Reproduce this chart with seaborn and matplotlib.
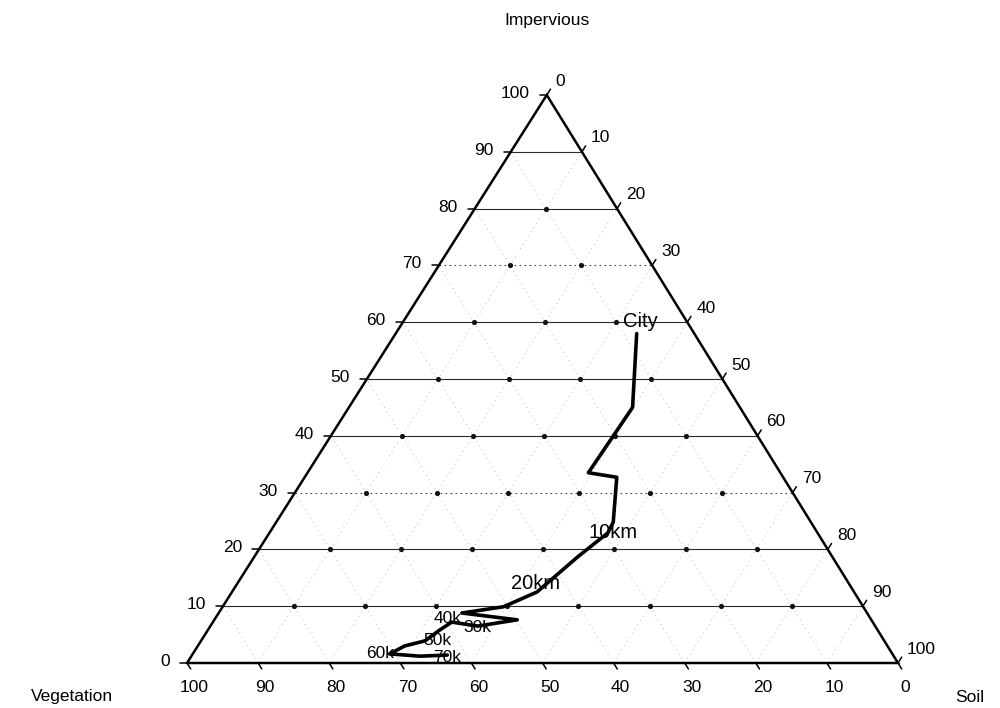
import numpy as np
import pandas as pd
import matplotlib
matplotlib.use("Agg")
import matplotlib.pyplot as plt
import seaborn as sns

sns.set_theme(style="white")
plt.rcParams['font.family'] = ['Liberation Sans', 'DejaVu Sans']
plt.rcParams['text.color'] = 'black'

# Land-cover composition (%) along the transect from the city centre outwards
impervious = [58.0, 45.0, 33.5, 32.7, 24.8, 22.9, 18.7, 12.5, 9.9, 8.8,
              7.6, 6.5, 7.2, 5.8, 3.9, 3.0, 1.6, 1.2, 1.4]
soil = [33.9, 39.9, 39.5, 43.9, 47.4, 47.6, 45.5, 42.9, 39.5, 34.2,
        42.6, 37.6, 33.6, 32.6, 31.5, 29.1, 27.7, 32.2, 35.9]
vegetation = [8.1, 15.1, 27.0, 23.4, 27.8, 29.5, 35.8, 44.6, 50.6, 57.0,
              49.8, 55.9, 59.2, 61.6, 64.6, 67.9, 70.7, 66.6, 62.7]

# Distance labels and the transect sample each one belongs to
label_text = ["City", "10km", "20km", "30k", "40k", "50k", "60k", "70k"]
label_sample = [0, 5, 7, 11, 12, 14, 16, 18]

axis_ticks = [0, 10, 20, 30, 40, 50, 60, 70, 80, 90, 100]
axis_names = ["Impervious", "Vegetation", "Soil"]

APEX = 0.506  # horizontal position of the Impervious vertex


def to_xy(veg, soi, imp):
    soi = np.asarray(soi, float) / 100.0
    imp = np.asarray(imp, float) / 100.0
    return soi + APEX * imp, imp


W, H = 1000, 708
fig = plt.figure(figsize=(W / 100, H / 100), dpi=100)
ax = fig.add_axes([187 / W, 45 / H, 711 / W, 568 / H])
ax.set_xlim(0, 1)
ax.set_ylim(0, 1)
ax.axis("off")
px_x, px_y = 1 / 711, 1 / 568  # one pixel in axes units

# Grid: constant impervious (horizontal) lines
for k in range(10, 100, 10):
    x0, y0 = to_xy(100 - k, 0, k)
    x1, y1 = to_xy(0, 100 - k, k)
    if k in (30, 70):
        ax.plot([x0, x1], [y0, y1], color="#444444", lw=0.8, ls=(0, (1.5, 3)), zorder=1)
    else:
        ax.plot([x0, x1], [y0, y1], color="#2a2a2a", lw=0.8, zorder=1)

# Grid: constant soil and constant vegetation lines (faint dotted)
for k in range(10, 100, 10):
    xa, ya = to_xy(100 - k, k, 0)
    xb, yb = to_xy(0, k, 100 - k)
    ax.plot([xa, xb], [ya, yb], color="#a8a8a8", lw=0.6, ls=(0, (1, 5)), zorder=1)
    xa, ya = to_xy(k, 100 - k, 0)
    xb, yb = to_xy(k, 0, 100 - k)
    ax.plot([xa, xb], [ya, yb], color="#a8a8a8", lw=0.6, ls=(0, (1, 5)), zorder=1)

# Grid intersections
nodes = [(100 - i - s, s, i) for i in range(10, 100, 10) for s in range(10, 100, 10)
         if 100 - i - s >= 10]
nodes = pd.DataFrame(nodes, columns=["veg", "soil", "imp"])
nx, ny = to_xy(nodes["veg"], nodes["soil"], nodes["imp"])
sns.scatterplot(x=nx, y=ny, ax=ax, color="#111111", s=14, linewidth=0, zorder=2)

# Triangle outline
tx, ty = to_xy([100, 0, 0, 100], [0, 100, 0, 0], [0, 0, 100, 0])
ax.plot(tx, ty, color="black", lw=1.8, solid_joinstyle="miter", zorder=3, clip_on=False)

# Ticks and tick labels
tl = 7
d_bot = np.array([351, -568]) / np.hypot(351, 568)
d_rgt = np.array([360, 568]) / np.hypot(360, 568)
tick_fs = 12.5
for t in axis_ticks:
    # Impervious (left edge)
    x, y = to_xy(100 - t, 0, t)
    ax.plot([x, x - tl * px_x], [y, y], color="black", lw=1.1, clip_on=False)
    ax.annotate(str(t), (x, y), xytext=(-17 * 0.72, 1.5 * 0.72), textcoords="offset points",
                ha="right", va="center", fontsize=tick_fs, color="black", annotation_clip=False)
    # Vegetation (bottom edge)
    x, y = to_xy(t, 100 - t, 0)
    ax.plot([x, x + d_bot[0] * tl * px_x], [y, y + d_bot[1] * tl * px_y],
            color="black", lw=1.1, clip_on=False)
    ax.annotate(str(t), (x, y), xytext=(7 * 0.72, -25 * 0.72), textcoords="offset points",
                ha="center", va="center", fontsize=tick_fs, color="black", annotation_clip=False)
    # Soil (right edge)
    x, y = to_xy(0, t, 100 - t)
    ax.plot([x, x + d_rgt[0] * tl * px_x], [y, y + d_rgt[1] * tl * px_y],
            color="black", lw=1.1, clip_on=False)
    ax.annotate(str(t), (x, y), xytext=(9 * 0.72, 14 * 0.72), textcoords="offset points",
                ha="left", va="center", fontsize=tick_fs, color="black", annotation_clip=False)

# Transect path
px, py = to_xy(vegetation, soil, impervious)
path = pd.DataFrame({"x": px, "y": py, "step": np.arange(len(px))})
sns.lineplot(data=path, x="x", y="y", sort=False, estimator=None, ax=ax,
             color="black", lw=2.6, zorder=4)

# Distance labels (the outer ones sit in a tight cluster, so slightly smaller)
label_offset = {"City": (3, 9), "10km": (4, 0), "20km": (-1, 6), "30k": (0, -1),
                "40k": (-3, 2.5), "50k": (9, 0.5), "60k": (-7, 0), "70k": (0, -1.5)}
label_size = {"City": 14.5, "10km": 14.5, "20km": 14.5}
for name, idx in zip(label_text, label_sample):
    ax.annotate(name, (px[idx], py[idx]), xytext=label_offset[name], textcoords="offset points",
                ha="center", va="center", fontsize=label_size.get(name, 12.5),
                color="black", zorder=5, annotation_clip=False)

ax.set_xlabel("")
ax.set_ylabel("")

# Vertex names
fig.text(547 / W, 1 - 20 / H, axis_names[0], ha="center", va="center", fontsize=12.5, color="black")
fig.text(72 / W, 1 - 697 / H, axis_names[1], ha="center", va="center", fontsize=12.5, color="black")
fig.text(970 / W, 1 - 697 / H, axis_names[2], ha="center", va="center", fontsize=12.5, color="black")

fig.savefig("out.png", dpi=100)
